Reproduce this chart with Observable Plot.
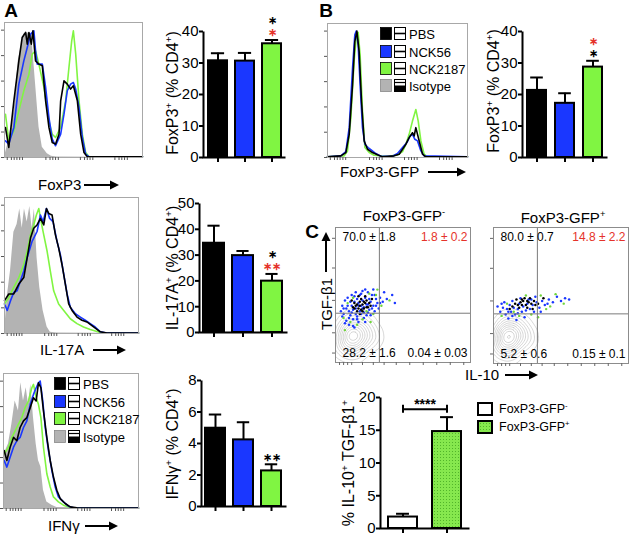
<!DOCTYPE html>
<html><head><meta charset="utf-8">
<script src="https://cdn.jsdelivr.net/npm/d3@7"></script>
<script src="https://cdn.jsdelivr.net/npm/@observablehq/plot@0.6"></script>
<style>
body{margin:0;background:#fff;}
#fig{position:relative;width:631px;height:535px;overflow:hidden;font-family:"Liberation Sans",Arial,Helvetica,sans-serif;color:#000;}
.abs{position:absolute;white-space:nowrap;line-height:1;}
sup{font-size:0.62em;vertical-align:0.6em;line-height:0;}
</style></head><body>
<svg width="0" height="0" style="position:absolute"><defs>
<pattern id="gdots" width="3" height="3" patternUnits="userSpaceOnUse"><rect width="3" height="3" fill="#86e84e"/><rect width="1" height="1" fill="#52b52a"/></pattern>
</defs></svg>
<div id="fig"></div>
<script>
// ---------------- data ----------------
const groups = ["PBS", "NCK56", "NCK2187"];
const legendLabels = ["PBS", "NCK56", "NCK2187", "Isotype"];
const groupColors = ["#000000", "#1a37ff", "#80f542"];
const isotypeColor = "#b3b3b3";
const starRed = "#e5332a";

// bar values (% of CD4+), mean and SEM
const foxp3Mean = [30.7, 30.6, 36.1];
const foxp3Err = [2.4, 2.6, 1.2];
const il17Mean = [34.6, 29.8, 19.9];
const il17Err = [6.8, 1.8, 2.8];
const ifngMean = [4.97, 4.23, 2.26];
const ifngErr = [0.87, 1.12, 0.42];
const gfpMean = [21.3, 17.2, 28.7];
const gfpErr = [4.1, 3.2, 2.0];
// significance: [group, stars, compared with], stacked upward
const foxp3Stars = [["NCK2187", "∗", "NCK56"], ["NCK2187", "∗", "PBS"]];
const il17Stars = [["NCK2187", "∗∗", "NCK56"], ["NCK2187", "∗", "PBS"]];
const ifngStars = [["NCK2187", "∗∗", "PBS"]];
const gfpStars = [["NCK2187", "∗", "PBS"], ["NCK2187", "∗", "NCK56"]];

const foxp3Ticks = [0, 10, 20, 30, 40];
const il17Ticks = [0, 10, 20, 30, 40, 50];
const ifngTicks = [0, 2, 4, 6, 8];
const gfpTicks = [0, 10, 20, 30, 40];

// panel C bars
const cGroups = ["FoxP3-GFP−", "FoxP3-GFP+"];
const cMean = [1.75, 14.8];
const cErr = [0.5, 2.2];
const cTicks = [0, 5, 10, 15, 20];
const cSig = "****";
const cBracketY = 18.2;

// histograms: [fluorescence (% of axis), % of max]
const histYTicks = [0, 20, 40, 60, 80, 100];
const histXTicks = [2, 5, 7, 9, 11, 13, 30, 33, 35, 37, 39, 55, 58, 60, 62, 64, 80, 83, 85, 87, 89];
const foxp3Grey = [[0,0.5],[3,13],[7,37],[10,76],[14,97],[18,98],[20,92],[22.5,58],[25,24],[27.4,8],[31,3],[34,1],[38,0.3],[100,0]];
const foxp3Black = [[0.7,23.6],[3.1,7.9],[6.8,44.5],[10.4,75.9],[12.8,94.2],[15.3,98.2],[16.5,89],[17.7,98.2],[19.4,89],[20.6,99.5],[22.5,75.9],[24.9,73.3],[27.4,72],[29.8,44.5],[32.2,23.6],[34.6,11.8],[37,10.5],[39.5,18.3],[40.7,44.5],[41.9,52.4],[43.1,60.2],[45.5,57.6],[47.9,53.7],[49.9,56.3],[52.8,44.5],[55.2,18.3],[57.6,3.9],[60,0.5],[100,0.5]];
const foxp3Blue = [[0.7,13.1],[3.1,10.5],[6.8,23.6],[10.4,57.6],[14,75.9],[16.5,86.4],[18.9,96.9],[21.3,99.5],[22.5,83.8],[23.7,73.3],[27.4,73.3],[29.8,55],[32.2,31.4],[34.6,14.4],[37,9.2],[40.7,18.3],[43.1,34],[45.5,52.4],[47.9,57.6],[49.9,58.9],[51.6,53.7],[54,39.3],[56.4,15.7],[58.8,2.6],[61.3,0.5],[100,0.5]];
const foxp3Green = [[0.7,34],[3.1,13.1],[6.8,20.9],[10.4,36.6],[14,52.4],[17.7,65.4],[20.1,81.2],[22.5,83.8],[24.9,73.3],[28.6,55],[32.2,28.8],[34.6,18.3],[37,15.7],[40.7,23.6],[44.3,44.5],[46.7,70.7],[48.7,91.6],[49.9,99.5],[51.6,81.2],[54,44.5],[56.4,18.3],[58.8,3.9],[61.3,0.5],[100,0.5]];

const il17Grey = [[0,1],[2,28],[4.5,49],[7,79],[9.4,85],[11.4,97],[13.2,82],[14.9,97],[16.9,87],[18.9,99],[20.6,82],[22.3,97],[24.3,59],[26.3,36],[28.8,18],[31.8,5],[34.2,1],[39,0.3],[100,0]];
const il17Black = [[0,25.6],[3.2,30.8],[6.9,30.8],[10.7,38.5],[14.4,43.6],[16.9,59],[19.4,74.4],[21.8,82],[24.3,84.6],[26.8,89.7],[29.3,84.6],[31.3,97.4],[33,93.6],[35.5,92.3],[38,76.9],[40.4,66.7],[42.9,53.8],[45.4,38.5],[47.9,23],[50.4,18],[54.1,12.8],[57.8,10.3],[61.5,9],[66.5,5.1],[71.5,1.3],[76.4,0.3],[100,0.3]];
const il17Blue = [[0,23],[2,18],[4.5,25.6],[6.9,32],[9.4,33.3],[11.9,41],[14.4,48.7],[16.9,59],[20.6,71.8],[24.3,79.5],[26.8,92.3],[28.8,87.2],[31.3,97.4],[33.7,89.7],[36.2,87.2],[39.2,71.8],[41.7,61.5],[44.2,46.2],[46.7,30.8],[49.1,20.5],[52.9,15.4],[56.6,12.8],[60.3,10.3],[64,7.7],[67.7,5.1],[71.5,1.3],[76.4,0.3],[100,0.3]];
const il17Green = [[0,23],[3.2,28.2],[6.9,35.9],[10.7,43.6],[14.4,53.8],[16.9,64.1],[19.4,76.9],[21.8,84.6],[23.8,92.3],[25.6,97.4],[27.3,87.2],[29.3,76.9],[31.8,64.1],[34.2,48.7],[36.7,33.3],[40.4,23],[44.2,18],[49.1,11.5],[54.1,7.7],[59,5.1],[64,3.1],[71.5,0.8],[76.4,0.3],[100,0.3]];

const ifngGrey = [[0.5,42.9],[3.7,50.6],[6.2,66.2],[8.6,84.4],[11.1,76.6],[12.8,98.7],[14.8,84.4],[16.8,94.8],[18.5,81.8],[20.2,97.4],[22.2,71.4],[24.2,50.6],[25.9,37.7],[27.7,32.5],[29.6,14.3],[32.1,5.2],[35.8,2.6],[39.5,0.8],[100,0]];
const ifngBlack = [[0.5,45.5],[2.5,37.7],[4.9,48.1],[7.4,55.8],[9.9,53.2],[12.3,63.6],[14.8,68.8],[17.3,71.4],[19.8,79.2],[22.2,87],[24.2,84.4],[25.9,98.7],[27.7,94.8],[29.6,76.6],[32.1,55.8],[34.6,37.7],[37,24.7],[39.5,14.3],[42,7.8],[45.7,3.9],[49.4,1.3],[54.3,0.5],[100,0.3]];
const ifngBlue = [[0.5,37.7],[2.5,32.5],[4.9,40.3],[7.4,48.1],[9.9,53.2],[12.3,55.8],[14.8,63.6],[17.3,68.8],[19.8,81.8],[22.2,89.6],[24.2,94.8],[25.9,98.7],[27.2,100],[29.1,84.4],[30.9,63.6],[33.3,45.5],[35.8,29.9],[38.3,16.9],[40.7,9.1],[44.4,5.2],[48.1,1.8],[51.9,0.5],[100,0.3]];
const ifngGreen = [[0.5,42.9],[3.7,48.1],[6.2,55.8],[8.6,61],[11.1,66.2],[13.6,71.4],[16,79.2],[18.5,84.4],[21,94.8],[22.2,97.4],[24.2,87],[25.9,81.8],[27.7,71.4],[29.6,48.1],[32.1,27.3],[34.6,16.9],[37,9.1],[40.7,5.2],[44.4,2.6],[49.4,0.8],[100,0.3]];

const gfpBlack = [[0,0.5],[9.5,1.3],[13.1,3.9],[15.5,18.3],[17.9,57.6],[19.5,91.6],[21,100],[22.6,83.8],[24.3,44.5],[26.2,13.1],[28.6,6.5],[32.1,3.9],[35.7,2.1],[39.3,0.5],[47.6,1.3],[51.2,2.6],[53.6,6.5],[56,10.5],[58.3,15.7],[60.7,19.6],[61.9,17],[63.1,23.6],[64.3,18.3],[65.5,13.1],[67.9,2.6],[70.2,0.5],[100,0.5]];
const gfpBlue = [[0,0.5],[9.5,1.3],[13.1,4.7],[15.5,23.6],[17.9,70.7],[19.5,96.9],[20.5,100],[21.9,89],[23.3,57.6],[25,23.6],[26.7,10.5],[29,7.9],[31.4,5.8],[34.5,3.1],[38.1,1],[46.4,1],[50,3.1],[53.6,7.9],[56.7,11.8],[59,17],[60.7,18.3],[62.4,14.4],[64.3,13.1],[66.7,5.2],[69,1.3],[100,0.5]];
const gfpGreen = [[0,0.5],[11.9,1.3],[14.3,5.2],[16.7,31.4],[19,75.9],[20.7,96.9],[21.9,99],[23.3,81.2],[25,36.6],[26.7,7.9],[29.8,3.9],[33.3,1.8],[42.9,0.8],[50,2.1],[53.6,4.7],[56,10.5],[58.3,18.3],[60.7,28.8],[63.1,38],[64.8,28.8],[66.7,13.1],[69,2.6],[71.4,0.5],[100,0.5]];

// flow plots: [IL-10, TGF-β1] (% of axis)
const flowXTicks = [3, 6, 9, 12, 20, 28, 36, 45, 55, 65, 75, 85, 95];
const flowYTicks = [7, 22, 46, 70, 92];
const quadCut = [32.5, 36.5];
const gfpNegQuad = ["70.0 ± 1.8", "1.8 ± 0.2", "28.2 ± 1.6", "0.04 ± 0.03"];
const gfpPosQuad = ["80.0 ± 0.7", "14.8 ± 2.2", "5.2 ± 0.6", "0.15 ± 0.1"];
const gfpNegBlue = [[8,40],[10,38],[12,42],[14,45],[15,40],[17,44],[18,38],[20,46],[21,41],[22,48],[24,43],[25,39],[26,45],[27,50],[28,42],[30,47],[11,35],[13,32],[16,34],[19,36],[23,35],[6,36],[5,42],[7,46],[9,48],[12,50],[15,52],[18,50],[20,53],[24,52],[29,38],[31,44],[33,48],[35,45],[38,47],[42,50],[10,28],[14,26],[17,30],[8,31],[4,38],[26,35],[22,30],[32,40],[16,47],[19,42],[13,39],[21,37],[25,47],[28,54],[36,52],[44,44],[9,42],[11,45],[14,49],[17,42],[20,40],[23,43],[12,37],[15,36],[6,40],[27,40],[30,42],[19,51],[10,33],[16,32],[7,29],[13,27],[21,33],[24,37],[33,44],[29,50],[22,54],[5,34]];
const gfpNegBlack = [[15,42],[17,40],[18,45],[20,43],[22,44],[19,47],[16,38],[21,40],[23,46],[14,44],[24,41],[20,38],[17,49],[25,44],[13,41],[18,36],[22,49],[26,42],[12,46],[27,47],[16,43],[19,39],[21,45],[14,40],[23,41],[18,42]];
const gfpNegGreen = [[9,44],[23,38],[30,50],[11,30],[28,36],[34,42],[6,33],[20,32],[31,54],[16,28],[40,46],[7,24],[26,30],[13,48],[25,51]];
const gfpNegContour = [[13,20],[10,18],[16,22],[8,24],[18,17],[12,14],[14,27],[6,16],[20,24],[11,10],[17,10],[22,18],[5,22],[9,30],[19,31],[25,22],[15,5],[7,8],[27,14],[13,34],[3,12],[24,30],[30,20],[12,21],[14,19],[11,22],[15,17]];
const gfpPosBlue = [[5,38],[7,41],[9,36],[10,40],[12,43],[13,38],[15,41],[16,36],[18,40],[19,44],[21,38],[22,42],[24,39],[25,44],[27,40],[29,43],[30,38],[32,45],[34,41],[36,46],[38,43],[41,47],[44,45],[47,49],[50,46],[53,48],[8,45],[11,33],[14,46],[17,32],[23,34],[26,47],[31,49],[35,38],[3,42],[20,48],[6,44],[11,38],[14,35],[18,37],[28,47],[40,44],[56,47]];
const gfpPosBlack = [[14,42],[16,44],[18,43],[20,45],[22,46],[24,43],[26,45],[28,44],[19,41],[23,48],[21,43],[25,41],[27,48],[30,46],[17,47],[29,40],[33,44],[12,40],[37,48],[21,47],[25,46],[31,43]];
const gfpPosGreen = [[10,44],[15,38],[28,36],[35,50],[42,42],[46,51],[19,35],[6,35],[33,34],[52,44],[39,40],[24,50]];
const gfpPosContour = [[11,20],[9,18],[14,22],[7,24],[16,17],[10,14],[12,27],[5,16],[18,24],[9,10],[15,10],[20,18],[4,22],[8,30],[17,31],[23,22],[13,5],[6,8],[25,14],[11,34],[3,12],[21,29],[27,20],[10,21],[12,19],[9,22],[13,17]];

// ---------------- helpers ----------------
const FONT = '"Liberation Sans", Arial, Helvetica, sans-serif';
const fig = document.getElementById("fig");
const pts = (arr) => arr.map(([x, y]) => ({x, y}));

function mount(node, left, top) {
  node.style.position = "absolute";
  node.style.left = left + "px";
  node.style.top = top + "px";
  fig.appendChild(node);
}
function framedPlot([x0, y0, x1, y1], [mt, mr, mb, ml], opts) {
  const node = Plot.plot({
    width: x1 - x0 + ml + mr, height: y1 - y0 + mt + mb,
    marginTop: mt, marginRight: mr, marginBottom: mb, marginLeft: ml,
    style: {fontFamily: FONT, fontSize: "15px", background: "none", overflow: "visible", color: "#000"},
    ...opts
  });
  mount(node, x0 - ml, y0 - mt);
  return node;
}
function text(html, x, y, {size = 15, weight = "normal", color = "#000", anchor = "center", rotate = false} = {}) {
  const d = document.createElement("div");
  d.className = "abs";
  d.innerHTML = html;
  Object.assign(d.style, {left: x + "px", top: y + "px", fontSize: size + "px", fontWeight: weight, color});
  const tx = anchor === "start" ? "0" : "-50%";
  d.style.transform = rotate ? "translate(-50%,-50%) rotate(-90deg)" : `translate(${tx},-50%)`;
  fig.appendChild(d);
}
function svgAt(x, y, w, h, inner) {
  const d = document.createElement("div");
  d.className = "abs";
  Object.assign(d.style, {left: x + "px", top: y + "px"});
  d.innerHTML = `<svg width="${w}" height="${h}" style="display:block;overflow:visible">${inner}</svg>`;
  fig.appendChild(d);
}
function hArrow(x1, x2, y) {
  const w = x2 - x1;
  svgAt(x1, y - 5, w, 10, `<line x1="0" y1="5" x2="${w - 6}" y2="5" stroke="#000" stroke-width="2"/><path d="M${w - 9},0.5L${w},5L${w - 9},9.5Z" fill="#000"/>`);
}
function vArrow(x, yBottom, yTop) {
  const h = yBottom - yTop;
  svgAt(x - 5, yTop, 10, h, `<line x1="5" y1="${h}" x2="5" y2="6" stroke="#000" stroke-width="2"/><path d="M0.5,9L5,0L9.5,9Z" fill="#000"/>`);
}

function histogram(box, grey, black, blue, green) {
  const marks = [];
  if (grey) marks.push(Plot.areaY(pts(grey), {x: "x", y: "y", fill: isotypeColor}));
  [[green, groupColors[2]], [blue, groupColors[1]], [black, groupColors[0]]].forEach(([s, c]) =>
    marks.push(Plot.lineY(pts(s), {x: "x", y: "y", stroke: c, strokeWidth: 1.6})));
  marks.push(Plot.frame({stroke: "#a8a8a8"}));
  marks.push(Plot.axisY(histYTicks, {tickSize: 3, tickFormat: () => "", stroke: "#555", label: null}));
  marks.push(Plot.axisX(histXTicks, {tickSize: 3, tickFormat: () => "", stroke: "#555", label: null}));
  return framedPlot(box, [4, 4, 6, 6], {x: {domain: [0, 100], label: null}, y: {domain: [0, 106], label: null}, marks});
}

function barChart(box, [pI, pO], cats, means, errs, fills, yTicks, stars, capW, extra) {
  const [x0, y0, x1, y1] = box;
  const W = x1 - x0, H = y1 - y0;
  const n = cats.length;
  const step = W / (n - pI + 2 * pO);
  const bw = step * (1 - pI);
  const inset = Math.max(0, (bw - capW) / 2);
  const rows = cats.map((c, i) => ({c, v: means[i], top: means[i] + errs[i], fill: fills[i]}));
  const topOf = Object.fromEntries(rows.map((r) => [r.c, r.top]));
  const starRows = stars.map(([c, t, vs], k) => ({c, t, y: topOf[c], col: vs === "PBS" ? "#000" : starRed, k}));
  const starMark = (k, dy) => Plot.text(starRows.filter((d) => d.k === k), {x: "c", y: "y", text: "t", fill: "col", dy, fontSize: 10.5, fontWeight: "bold", lineAnchor: "middle"});
  return framedPlot(box, [12, 6, 8, 30], {
    x: {domain: cats, paddingInner: pI, paddingOuter: pO, label: null},
    y: {domain: [yTicks[0], yTicks[yTicks.length - 1]], label: null},
    color: {type: "identity"},
    marks: [
      Plot.barY(rows, {x: "c", y: "v", fill: "fill", stroke: "#000", strokeWidth: 2}),
      Plot.ruleX(rows, {x: "c", y1: "v", y2: "top", stroke: "#000", strokeWidth: 2}),
      Plot.tickY(rows, {x: "c", y: "top", stroke: "#000", strokeWidth: 2, insetLeft: inset, insetRight: inset}),
      Plot.frame({stroke: "#000", strokeWidth: 2, strokeDasharray: `0 ${W + H} ${W + H}`}),
      Plot.axisY(yTicks, {tickSize: 4, tickPadding: 1, strokeWidth: 2, label: null, fontSize: 15}),
      Plot.axisX(cats, {tickSize: 5, tickFormat: () => "", strokeWidth: 2, label: null}),
      starMark(0, -7),
      starMark(1, -19.5),
      ...extra(bw, step)
    ]
  });
}

function flowPlot(box, blue, black, green, contourPts, quad) {
  const dens = d3.contourDensity().x((d) => d[0]).y((d) => d[1]).size([100, 100]).cellSize(1).bandwidth(5.5).thresholds(10)(contourPts);
  const rings = [];
  dens.forEach((c, ci) => c.coordinates.forEach((poly, pi) => poly.forEach((ring, ri) =>
    ring.forEach(([x, y]) => rings.push({x, y, id: `${ci}-${pi}-${ri}`})))));
  const q = (i, anchor, dx, dy, fill, ta) => Plot.text([quad[i]], {frameAnchor: anchor, text: (d) => d, dx, dy, fill, textAnchor: ta, lineAnchor: "middle", fontSize: 12});
  return framedPlot(box, [4, 4, 6, 6], {
    x: {domain: [0, 100], label: null}, y: {domain: [0, 100], label: null},
    marks: [
      Plot.line(rings, {x: "x", y: "y", z: "id", stroke: "#b4b4b4", strokeWidth: 0.55, clip: true}),
      Plot.dot(pts(blue), {x: "x", y: "y", r: 1.25, fill: groupColors[1], stroke: "none"}),
      Plot.dot(pts(green), {x: "x", y: "y", r: 1.2, fill: "#6fd63a", stroke: "none"}),
      Plot.dot(pts(black), {x: "x", y: "y", r: 1.25, fill: "#000", stroke: "none"}),
      Plot.ruleX([quadCut[0]], {stroke: "#7a7a7a", strokeWidth: 1}),
      Plot.ruleY([quadCut[1]], {stroke: "#7a7a7a", strokeWidth: 1}),
      Plot.frame({stroke: "#8c8c8c"}),
      Plot.axisY(flowYTicks, {tickSize: 3, tickFormat: () => "", stroke: "#666", label: null}),
      Plot.axisX(flowXTicks, {tickSize: 3, tickFormat: () => "", stroke: "#666", label: null}),
      q(0, "top-left", 7, 10, "#000", "start"),
      q(1, "top-right", -3, 10, starRed, "end"),
      q(2, "bottom-left", 7, -9, "#000", "start"),
      q(3, "bottom-right", -3, -9, "#000", "end")
    ]
  });
}

function legendA(x0, ys) {
  legendLabels.forEach((lab, i) => {
    const y = ys[i];
    const fc = i < 3 ? groupColors[i] : isotypeColor;
    const sc = i < 3 ? "#000" : "#888";
    const second = i < 3
      ? `<line x1="14.5" x2="25.5" y1="6.5" y2="6.5" stroke="#000" stroke-width="1.6"/>`
      : `<rect x="14.5" y="6.5" width="11" height="6" fill="#000"/><line x1="14.5" x2="25.5" y1="3.5" y2="3.5" stroke="#000" stroke-width="1.2"/>`;
    svgAt(x0, y - 6.5, 27, 13, `<rect x="0.5" y="0.5" width="11" height="12" fill="${fc}" stroke="${sc}" stroke-width="0.8"/><rect x="14.5" y="0.5" width="11" height="12" fill="#fff" stroke="#000" stroke-width="1"/>${second}`);
    text(lab, x0 + 29, y + 0.5, {size: 13, anchor: "start"});
  });
}

// ---------------- panel A ----------------
text("A", 11, 10, {size: 19, weight: "bold"});
histogram([4, 22, 142, 157], foxp3Grey, foxp3Black, foxp3Blue, foxp3Green);
histogram([4, 197, 138, 333], il17Grey, il17Black, il17Blue, il17Green);
histogram([3, 373, 138, 508], ifngGrey, ifngBlack, ifngBlue, ifngGreen);
legendA(54, [383, 401, 418, 436]);
text("FoxP3", 38, 184, {anchor: "start"}); hArrow(84, 119, 185);
text("IL-17A", 40, 349, {anchor: "start"}); hArrow(93, 126, 350);
text("IFNγ", 48, 525, {anchor: "start"}); hArrow(85, 118, 526);

const noExtra = () => [];
barChart([203, 31, 285, 157], [0.31, 0.16], groups, foxp3Mean, foxp3Err, groupColors, foxp3Ticks, foxp3Stars, 13, noExtra);
barChart([199, 203, 287, 332], [0.26, 0.12], groups, il17Mean, il17Err, groupColors, il17Ticks, il17Stars, 13, noExtra);
barChart([201, 380, 286, 506], [0.27, 0.14], groups, ifngMean, ifngErr, groupColors, ifngTicks, ifngStars, 13, noExtra);
text("FoxP3<sup>+</sup> (% CD4<sup>+</sup>)", 173, 93, {size: 16, rotate: true});
text("IL-17A<sup>+</sup> (% CD4<sup>+</sup>)", 173, 268, {size: 16, rotate: true});
text("IFNγ<sup>+</sup> (% CD4<sup>+</sup>)", 173, 444, {size: 16, rotate: true});

// ---------------- panel B ----------------
text("B", 326, 10, {size: 19, weight: "bold"});
histogram([327, 23, 467, 157], null, gfpBlack, gfpBlue, gfpGreen);
legendA(380, [33, 51, 68, 85]);
text("FoxP3-GFP", 340, 171, {anchor: "start"}); hArrow(428, 466, 172);
barChart([522, 31, 607, 157], [0.31, 0.17], groups, gfpMean, gfpErr, groupColors, gfpTicks, gfpStars, 13, noExtra);
text("FoxP3<sup>+</sup> (% CD4<sup>+</sup>)", 494, 91, {size: 16, rotate: true});

// ---------------- panel C ----------------
text("C", 312, 231, {size: 19, weight: "bold"});
text("FoxP3-GFP<sup>-</sup>", 404, 215, {size: 15});
text("FoxP3-GFP<sup>+</sup>", 563, 217, {size: 15});
flowPlot([335, 227, 470, 362], gfpNegBlue, gfpNegBlack, gfpNegGreen, gfpNegContour, gfpNegQuad);
flowPlot([493, 227, 628, 363], gfpPosBlue, gfpPosBlack, gfpPosGreen, gfpPosContour, gfpPosQuad);
text("TGF-β1", 326, 304, {size: 15, rotate: true}); vArrow(326, 272, 232);
text("IL-10", 465, 374, {anchor: "start"}); hArrow(505, 538, 375);

barChart([380, 397, 469, 528], [0.34, 0.18], cGroups, cMean, cErr, ["#ffffff", "url(#gdots)"], cTicks, [], 13,
  (bw, step) => [
    Plot.ruleY([cBracketY], {y: (d) => d, x1: () => cGroups[0], x2: () => cGroups[1], stroke: "#000", strokeWidth: 2, insetLeft: bw / 2, insetRight: bw / 2}),
    Plot.ruleX(cGroups, {x: (d) => d, y1: cBracketY - 0.6, y2: cBracketY + 0.6, stroke: "#000", strokeWidth: 2}),
    Plot.text([cSig], {x: () => cGroups[0], y: cBracketY, text: (d) => d, dx: step / 2, dy: -5, fontSize: 14, fontWeight: "bold", lineAnchor: "middle"})
  ]);
text("% IL-10<sup>+</sup> TGF-β1<sup>+</sup>", 349, 463, {size: 16, rotate: true});
svgAt(477, 402, 16, 32, `<rect x="1" y="1" width="14" height="12" fill="#fff" stroke="#000" stroke-width="2"/><rect x="1" y="19" width="14" height="12" fill="url(#gdots)" stroke="#000" stroke-width="2"/>`);
text("FoxP3-GFP<sup>-</sup>", 499, 409, {size: 12.5, anchor: "start"});
text("FoxP3-GFP<sup>+</sup>", 499, 427, {size: 12.5, anchor: "start"});
</script></body></html>
